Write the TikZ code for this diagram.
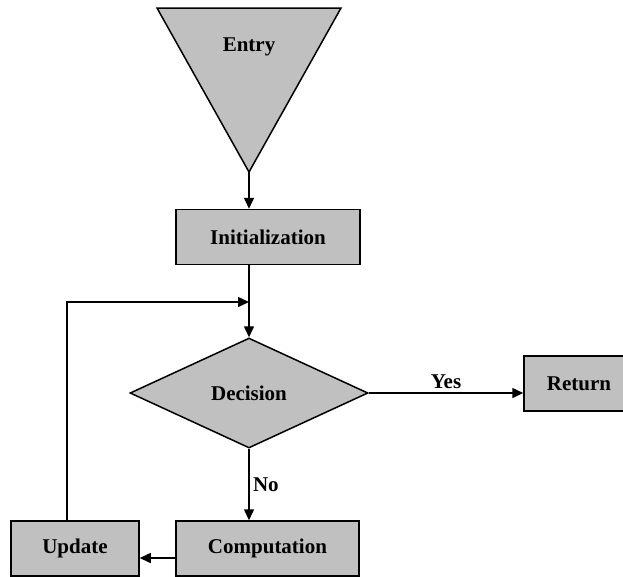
\documentclass[tikz,border=0pt]{standalone}
\usepackage{fontspec}
\setmainfont{Liberation Serif}
\usetikzlibrary{arrows.meta,shapes.geometric,calc}
\definecolor{flowGray}{RGB}{192,192,192}

\begin{document}
\begin{tikzpicture}[
    x=1pt,y=-1pt,
    lbl/.style={font=\fontsize{21}{25}\selectfont\bfseries},
    procbox/.style={draw,line width=1.5pt,fill=flowGray,minimum height=55pt,inner sep=0pt,lbl},
    decide/.style={diamond,draw,line width=1.5pt,fill=flowGray,minimum width=238pt,minimum height=110pt,inner sep=0pt,lbl},
    arr/.style={-{Triangle[length=11pt,width=10pt]},line width=1.5pt}
  ]
  \useasboundingbox (0,0) rectangle (623,576);
  % entry triangle
  \draw[line width=1.5pt,fill=flowGray] (157,8) -- (341,8) -- (249,172) -- cycle;
  \coordinate (entry) at (249,172);
  \node[lbl] (entrytxt) at (249,47) {Entry};
  \node[procbox,minimum width=184pt] (init) at (268,237) {Initialization};
  \node[decide] (dec) at (249,393) {Decision};
  \node[procbox,minimum width=110pt] (ret) at (579,383.5) {Return};
  \node[procbox,minimum width=183pt] (comp) at (267.5,548.5) {Computation};
  \node[procbox,minimum width=128pt] (upd) at (75,548.5) {Update};
  \coordinate (join) at (249,302);
  % connectors
  \draw[arr] (entry) -- (entry |- init.north);
  \draw[arr] (init.south -| dec.north) -- (dec.north);
  \draw[arr] (dec.east) -- node[lbl,above=0pt] {Yes} (dec.east -| ret.west);
  \draw[arr] (dec.south) -- node[lbl,right] {No} (comp.north -| dec.south);
  \draw[arr] ([yshift=-9.5pt]comp.west) -- ([yshift=-9.5pt]upd.east);
  \draw[arr] ([xshift=-8pt]upd.north) |- (join);
\end{tikzpicture}
\end{document}
